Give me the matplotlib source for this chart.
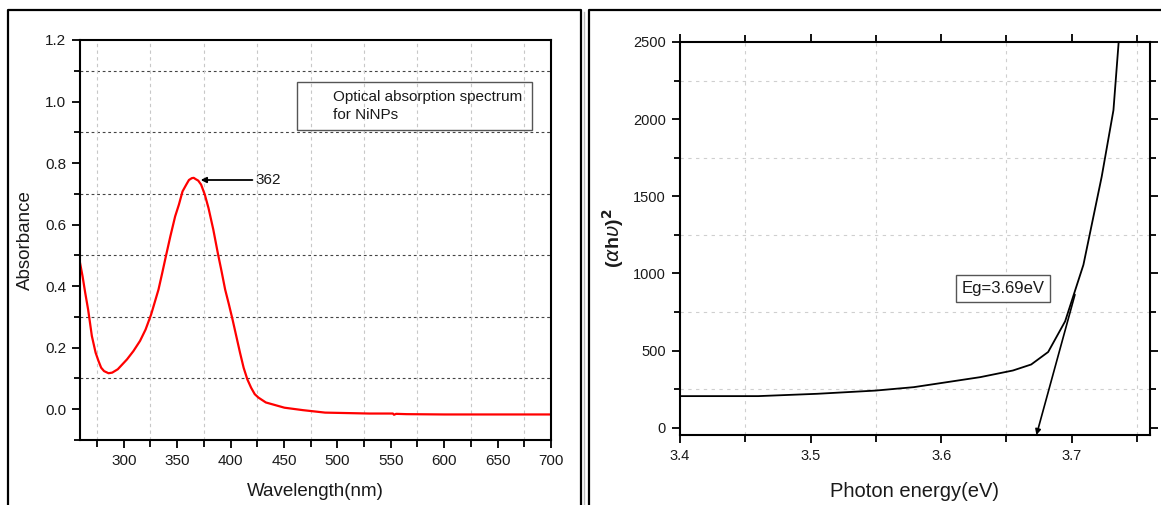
import matplotlib
matplotlib.use("Agg")
import matplotlib.pyplot as plt
from matplotlib.lines import Line2D
from matplotlib.patches import Rectangle
from matplotlib.ticker import MultipleLocator

plt.rcParams['font.family'] = ['Liberation Sans', 'DejaVu Sans']

# ---- Left panel data: absorption spectrum ----
wavelength = [259, 261.4, 263.9, 266.6, 270.1, 273.6, 276.3, 278.8, 281.5, 285.7,
              289.2, 294.4, 303, 309, 315.2, 320.4, 325.6, 332.5, 336, 339.4,
              343.6, 348.1, 351.6, 355, 358.5, 361, 363.7, 365.5, 367.2, 369.7,
              372.4, 375.9, 379.3, 383.8, 388, 391.5, 394.9, 398.4, 401.8, 405.3,
              408.8, 412.2, 415.7, 419.2, 422.6, 426, 433, 450.4, 467.8, 488.5,
              530, 552, 553, 555, 564.8, 600, 650, 700]
absorbance = [0.476, 0.432, 0.378, 0.324, 0.238, 0.184, 0.157, 0.135, 0.124, 0.117,
              0.119, 0.130, 0.162, 0.189, 0.222, 0.259, 0.308, 0.389, 0.443, 0.497,
              0.562, 0.627, 0.665, 0.708, 0.730, 0.745, 0.751, 0.752, 0.748, 0.743,
              0.730, 0.697, 0.654, 0.584, 0.508, 0.449, 0.389, 0.341, 0.292, 0.238,
              0.184, 0.135, 0.097, 0.070, 0.049, 0.038, 0.022, 0.005, -0.003, -0.011,
              -0.014, -0.014, -0.018, -0.015, -0.016, -0.017, -0.017, -0.017]
peak_label = "362"
peak_arrow_head = (372.0, 0.745)
peak_arrow_tail = (423.0, 0.745)

# ---- Right panel data: Tauc plot ----
energy = [3.400, 3.460, 3.505, 3.550, 3.579, 3.601, 3.630, 3.655, 3.669, 3.682,
          3.695, 3.709, 3.723, 3.732, 3.736]
ahv2 = [205, 205, 220, 241, 263, 291, 328, 371, 410, 491,
        690, 1056, 1627, 2058, 2500]
tangent_x = [3.7025, 3.673]
tangent_y = [863, -47]
eg_label = "Eg=3.69eV"

W, H = 1161, 505
fig = plt.figure(figsize=(W / 100, H / 100), dpi=100)
TXT = '#1a1a1a'

def fx(px):
    return px / W

def fy(py):
    return 1 - py / H

# outer frames
for xs, ys in [([8, 8, 581, 581], [H + 5, 10, 10, H + 5]),
               ([589, 589, W + 5], [H + 5, 10, 10])]:
    fig.add_artist(Line2D([fx(v) for v in xs], [fy(v) for v in ys],
                          color='black', lw=1.6, transform=fig.transFigure))
fig.add_artist(Line2D([fx(583.5), fx(583.5)], [fy(12), fy(H + 5)], color='#bbbbbb',
                      lw=1.0, transform=fig.transFigure))

# ---------------- Left axes ----------------
ax1 = fig.add_axes([fx(80), fy(440), (551 - 80) / W, (440 - 40) / H])
ax1.plot(wavelength, absorbance, color='red', lw=1.6, solid_joinstyle='round')
ax1.set_xlim(259, 700)
ax1.set_ylim(-0.1, 1.2)
ax1.xaxis.set_major_locator(MultipleLocator(50))
ax1.xaxis.set_minor_locator(MultipleLocator(25))
ax1.yaxis.set_major_locator(MultipleLocator(0.2))
ax1.yaxis.set_minor_locator(MultipleLocator(0.1))
ax1.yaxis.set_major_formatter(matplotlib.ticker.FormatStrFormatter('%.1f'))
ax1.tick_params(which='both', direction='out', top=False, right=False,
                labelsize=11, labelcolor=TXT, width=1.3, pad=4)
ax1.tick_params(which='major', length=6)
ax1.tick_params(which='minor', length=5)
ax1.tick_params(axis='y', which='minor', length=4)
for s in ax1.spines.values():
    s.set_linewidth(1.5)
# grid on minor positions
for v in [0.1, 0.3, 0.5, 0.7, 0.9, 1.1]:
    ax1.axhline(v, color='#444444', lw=0.8, ls=(0, (2.5, 2.5)), zorder=0)
for v in [275, 325, 375, 425, 475, 525, 575, 625, 675]:
    ax1.axvline(v, color='#c8c8c8', lw=0.8, ls=(0, (3, 3)), zorder=0)
ax1.set_xlabel("Wavelength(nm)", fontsize=13.5, color=TXT, labelpad=11)
ax1.set_ylabel("Absorbance", fontsize=13.5, color=TXT, labelpad=8)
ax1.annotate(peak_label, xy=peak_arrow_head, xytext=peak_arrow_tail,
             fontsize=11, color=TXT, va='center', ha='left',
             arrowprops=dict(arrowstyle='-|>', color='black', lw=1.3,
                             shrinkA=0, shrinkB=0, mutation_scale=8))
ax1.add_patch(Rectangle((0.4607, 0.775), 0.499, 0.12, transform=ax1.transAxes,
                        fill=False, edgecolor='#555555', lw=1.0))
ax1.text(0.537, 0.835, "Optical absorption spectrum\nfor NiNPs", transform=ax1.transAxes,
         fontsize=11, color=TXT, va='center', ha='left', linespacing=1.35)

# ---------------- Right axes ----------------
ax2 = fig.add_axes([fx(680), fy(435), (1150 - 680) / W, (435 - 42) / H])
ax2.plot(energy, ahv2, color='black', lw=1.3)
ax2.annotate('', xy=(tangent_x[1], tangent_y[1]), xytext=(tangent_x[0], tangent_y[0]),
             arrowprops=dict(arrowstyle='-|>', color='black', lw=1.2,
                             shrinkA=0, shrinkB=0, mutation_scale=8))
ax2.set_xlim(3.4, 3.76)
ax2.set_ylim(-47, 2500)
ax2.xaxis.set_major_locator(MultipleLocator(0.1))
ax2.xaxis.set_minor_locator(MultipleLocator(0.05))
ax2.yaxis.set_major_locator(MultipleLocator(500))
ax2.yaxis.set_minor_locator(MultipleLocator(250))
ax2.xaxis.set_major_formatter(matplotlib.ticker.FormatStrFormatter('%.1f'))
ax2.tick_params(which='both', direction='out', top=True, right=True,
                labeltop=False, labelright=False,
                labelsize=10.5, labelcolor=TXT, width=1.3, pad=4)
ax2.tick_params(which='major', length=6)
ax2.tick_params(which='minor', length=5)
ax2.tick_params(axis='y', which='minor', length=4)
for s in ax2.spines.values():
    s.set_linewidth(1.5)
for v in [250, 750, 1250, 1750, 2250]:
    ax2.axhline(v, color='#cfcfcf', lw=0.8, ls=(0, (3, 4)), zorder=0)
for v in [3.45, 3.55, 3.65, 3.75]:
    ax2.axvline(v, color='#cfcfcf', lw=0.8, ls=(0, (3, 4)), zorder=0)
ax2.set_xlabel("Photon energy(eV)", fontsize=14.5, color=TXT, labelpad=14)
ax2.set_ylabel(r"($\alpha$h$\upsilon$)$^\mathbf{2}$", fontsize=14, fontweight='bold',
               color=TXT, labelpad=5)
ax2.text(3.6474, 901, eg_label, fontsize=12, color=TXT, ha='center', va='center',
         bbox=dict(boxstyle='square,pad=0.35', facecolor='white', edgecolor='#555555', lw=1.0))

fig.savefig("out.png", dpi=100)
